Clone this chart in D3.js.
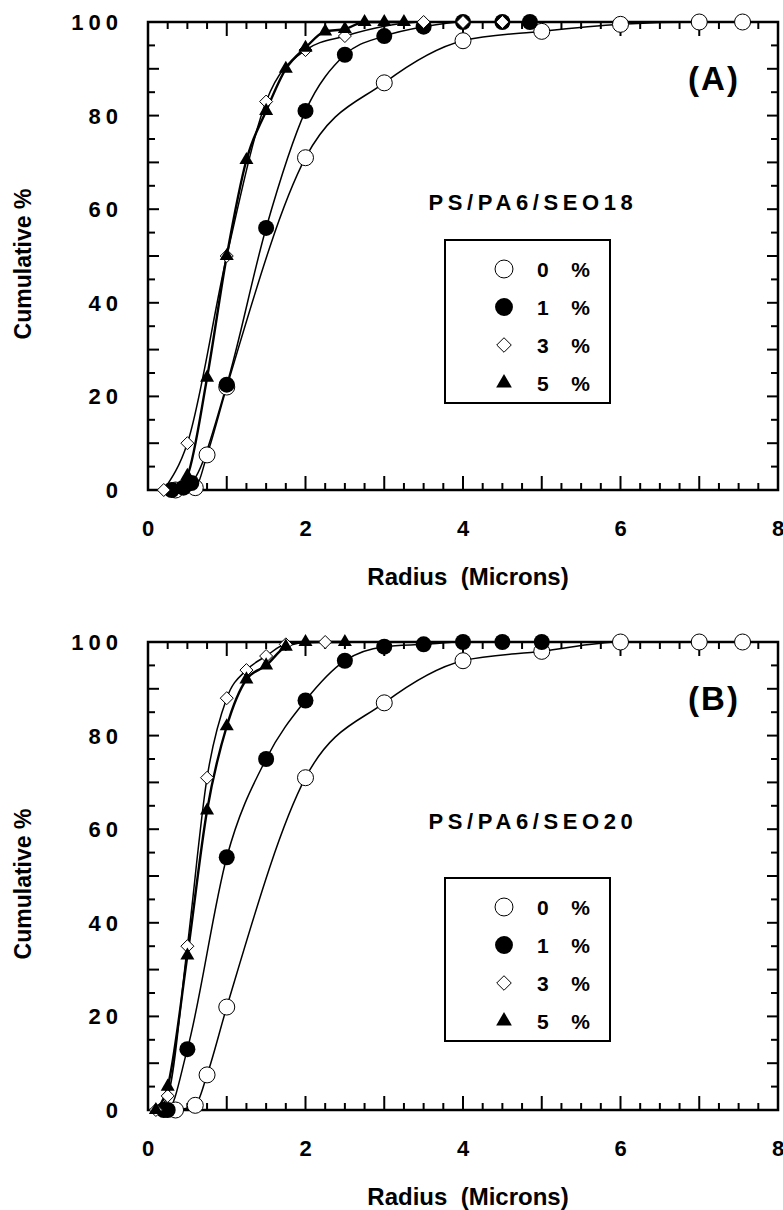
<!DOCTYPE html>
<html lang="en">
<head>
  <meta charset="UTF-8" />
  <title>Cumulative radius distribution</title>
  <script src="https://d3js.org/d3.v7.min.js"></script>
  <style>
    body {
      background-color: white;
      margin: 0;
      font-family: "Liberation Sans", Arial, sans-serif;
    }
    svg { display: block; }
    .lbl { font-weight: bold; fill: #000; }
  </style>
</head>
<body>
  <svg></svg>

  <script>
    // data: [radius (microns), cumulative %]
    const legendNums = ["0", "1", "3", "5"];
    const xTicks = [0, 2, 4, 6, 8];
    const yTicks = [0, 20, 40, 60, 80, 100];

    // panel A, PS/PA6/SEO18
    const a0 = [[0.35, 0], [0.6, 0.5], [0.75, 7.5], [1.0, 22], [2.0, 71], [3.0, 87], [4.0, 96], [5.0, 98], [6.0, 99.5], [7.0, 100], [7.55, 100]];
    const a1 = [[0.3, 0], [0.45, 0.5], [0.55, 1.5], [1.0, 22.5], [1.5, 56], [2.0, 81], [2.5, 93], [3.0, 97], [3.5, 99], [4.0, 100], [4.5, 100], [4.85, 100]];
    const a3 = [[0.2, 0], [0.5, 10], [1.0, 50], [1.5, 83], [2.0, 94], [2.5, 97], [3.5, 100], [4.0, 100], [4.5, 100]];
    const a5 = [[0.35, 0], [0.5, 3], [0.75, 24], [1.0, 50], [1.25, 70.5], [1.5, 81], [1.75, 90], [2.0, 94.5], [2.25, 98], [2.5, 98.5], [2.75, 100], [3.0, 100], [3.25, 100]];

    // panel B, PS/PA6/SEO20
    const b0 = [[0.35, 0], [0.6, 1], [0.75, 7.5], [1.0, 22], [2.0, 71], [3.0, 87], [4.0, 96], [5.0, 98], [6.0, 100], [7.0, 100], [7.55, 100]];
    const b1 = [[0.2, 0], [0.25, 0], [0.5, 13], [1.0, 54], [1.5, 75], [2.0, 87.5], [2.5, 96], [3.0, 99], [3.5, 99.5], [4.0, 100], [4.5, 100], [5.0, 100]];
    const b3 = [[0.1, 0], [0.25, 3], [0.5, 35], [0.75, 71], [1.0, 88], [1.25, 94], [1.5, 97], [1.75, 99.5], [2.25, 100]];
    const b5 = [[0.1, 0], [0.25, 5], [0.5, 33], [0.75, 64], [1.0, 82], [1.25, 92], [1.5, 95], [1.75, 99], [2.0, 100], [2.5, 100]];

    const W = 783, H = 1210;
    const svg = d3.select("svg").attr("width", W).attr("height", H);

    const panels = [
      { top: 22, tag: "(A)", name: "PS/PA6/SEO18", series: [a0, a1, a3, a5], titleY: 210, legendTop: 240 },
      { top: 642, tag: "(B)", name: "PS/PA6/SEO20", series: [b0, b1, b3, b5], titleY: 829, legendTop: 878 }
    ];

    const left = 148, right = 778, ph = 468;
    const x = d3.scaleLinear().domain([0, 8]).range([left, right]);

    // marker drawing for each series
    function marker(sel, i, k) {
      if (i === 0) {
        sel.append("circle").attr("r", 8 * k).attr("fill", "#fff").attr("stroke", "#000").attr("stroke-width", 1);
      } else if (i === 1) {
        sel.append("circle").attr("r", 8 * k).attr("fill", "#000");
      } else if (i === 2) {
        const s = 6.5 * k;
        sel.append("path").attr("d", `M0,${-s}L${s},0L0,${s}L${-s},0Z`).attr("fill", "#fff").attr("stroke", "#000").attr("stroke-width", 1);
      } else {
        sel.append("path").attr("d", d3.symbol(d3.symbolTriangle, 85 * k * k)()).attr("fill", "#000");
      }
    }

    panels.forEach(p => {
      const y = d3.scaleLinear().domain([0, 100]).range([p.top + ph, p.top]);
      const g = svg.append("g");

      const line = d3.line()
        .x(d => x(d[0]))
        .y(d => y(d[1]))
        .curve(d3.curveMonotoneX);

      // curves
      p.series.forEach((s, i) => {
        g.append("path")
          .attr("d", line(s))
          .attr("fill", "none")
          .attr("stroke", "#000")
          .attr("stroke-width", i === 3 ? 2.4 : 1.5);
      });

      // ticks, inward on all four sides
      const yb = p.top + ph;
      d3.range(0, 8.01, 0.25).forEach(v => {
        const len = Math.abs(v - Math.round(v)) < 1e-6 ? 14 : 7;
        g.append("line").attr("x1", x(v)).attr("x2", x(v)).attr("y1", yb).attr("y2", yb - len)
          .attr("stroke", "#000").attr("stroke-width", 2);
        g.append("line").attr("x1", x(v)).attr("x2", x(v)).attr("y1", p.top).attr("y2", p.top + len)
          .attr("stroke", "#000").attr("stroke-width", 2);
      });
      d3.range(0, 101, 5).forEach(v => {
        const len = v % 10 === 0 ? 11 : 7;
        g.append("line").attr("x1", left).attr("x2", left + len).attr("y1", y(v)).attr("y2", y(v))
          .attr("stroke", "#000").attr("stroke-width", 2);
        g.append("line").attr("x1", right).attr("x2", right - len).attr("y1", y(v)).attr("y2", y(v))
          .attr("stroke", "#000").attr("stroke-width", 2);
      });

      g.append("rect")
        .attr("x", left).attr("y", p.top)
        .attr("width", right - left).attr("height", ph)
        .attr("fill", "none").attr("stroke", "#000").attr("stroke-width", 2.5);

      // markers
      p.series.forEach((s, i) => {
        g.selectAll(null)
          .data(s)
          .enter().append("g")
          .attr("transform", d => `translate(${x(d[0])},${y(d[1])})`)
          .each(function () { marker(d3.select(this), i, 1); });
      });

      // tick labels
      g.selectAll(null).data(xTicks).enter().append("text")
        .attr("class", "lbl")
        .attr("x", d => x(d)).attr("y", yb + 46)
        .attr("text-anchor", "middle")
        .attr("font-size", 22)
        .text(d => d);

      g.selectAll(null).data(yTicks).enter().append("text")
        .attr("class", "lbl")
        .attr("x", left - 25).attr("y", d => y(d) + 8)
        .attr("text-anchor", "end")
        .attr("font-size", 22)
        .attr("letter-spacing", 5)
        .text(d => d);

      g.append("text").attr("class", "lbl")
        .attr("x", (left + right) / 2 + 5).attr("y", yb + 95)
        .attr("text-anchor", "middle").attr("font-size", 24)
        .attr("xml:space", "preserve")
        .text("Radius  (Microns)");

      g.append("text").attr("class", "lbl")
        .attr("transform", `translate(31,${p.top + 242}) rotate(-90)`)
        .attr("text-anchor", "middle").attr("font-size", 23)
        .text("Cumulative %");

      g.append("text").attr("class", "lbl")
        .attr("x", 714).attr("y", p.top + 68)
        .attr("text-anchor", "middle").attr("font-size", 33)
        .attr("letter-spacing", 2)
        .text(p.tag);

      g.append("text").attr("class", "lbl")
        .attr("x", 533).attr("y", p.titleY)
        .attr("text-anchor", "middle").attr("font-size", 22)
        .attr("letter-spacing", 4.6)
        .text(p.name);

      // legend
      const lg = g.append("g").attr("transform", `translate(445,${p.legendTop})`);
      lg.append("rect").attr("width", 165).attr("height", 163)
        .attr("fill", "#fff").attr("stroke", "#000").attr("stroke-width", 2);
      legendNums.forEach((t, i) => {
        const row = lg.append("g").attr("transform", `translate(59,${29 + i * 38})`);
        marker(row, i, 1.12);
        row.append("text").attr("class", "lbl")
          .attr("x", 33).attr("y", 8).attr("font-size", 21)
          .text(t);
        row.append("text").attr("class", "lbl")
          .attr("x", 86).attr("y", 8).attr("font-size", 21)
          .attr("text-anchor", "end")
          .text("%");
      });
    });
  </script>
</body>
</html>
